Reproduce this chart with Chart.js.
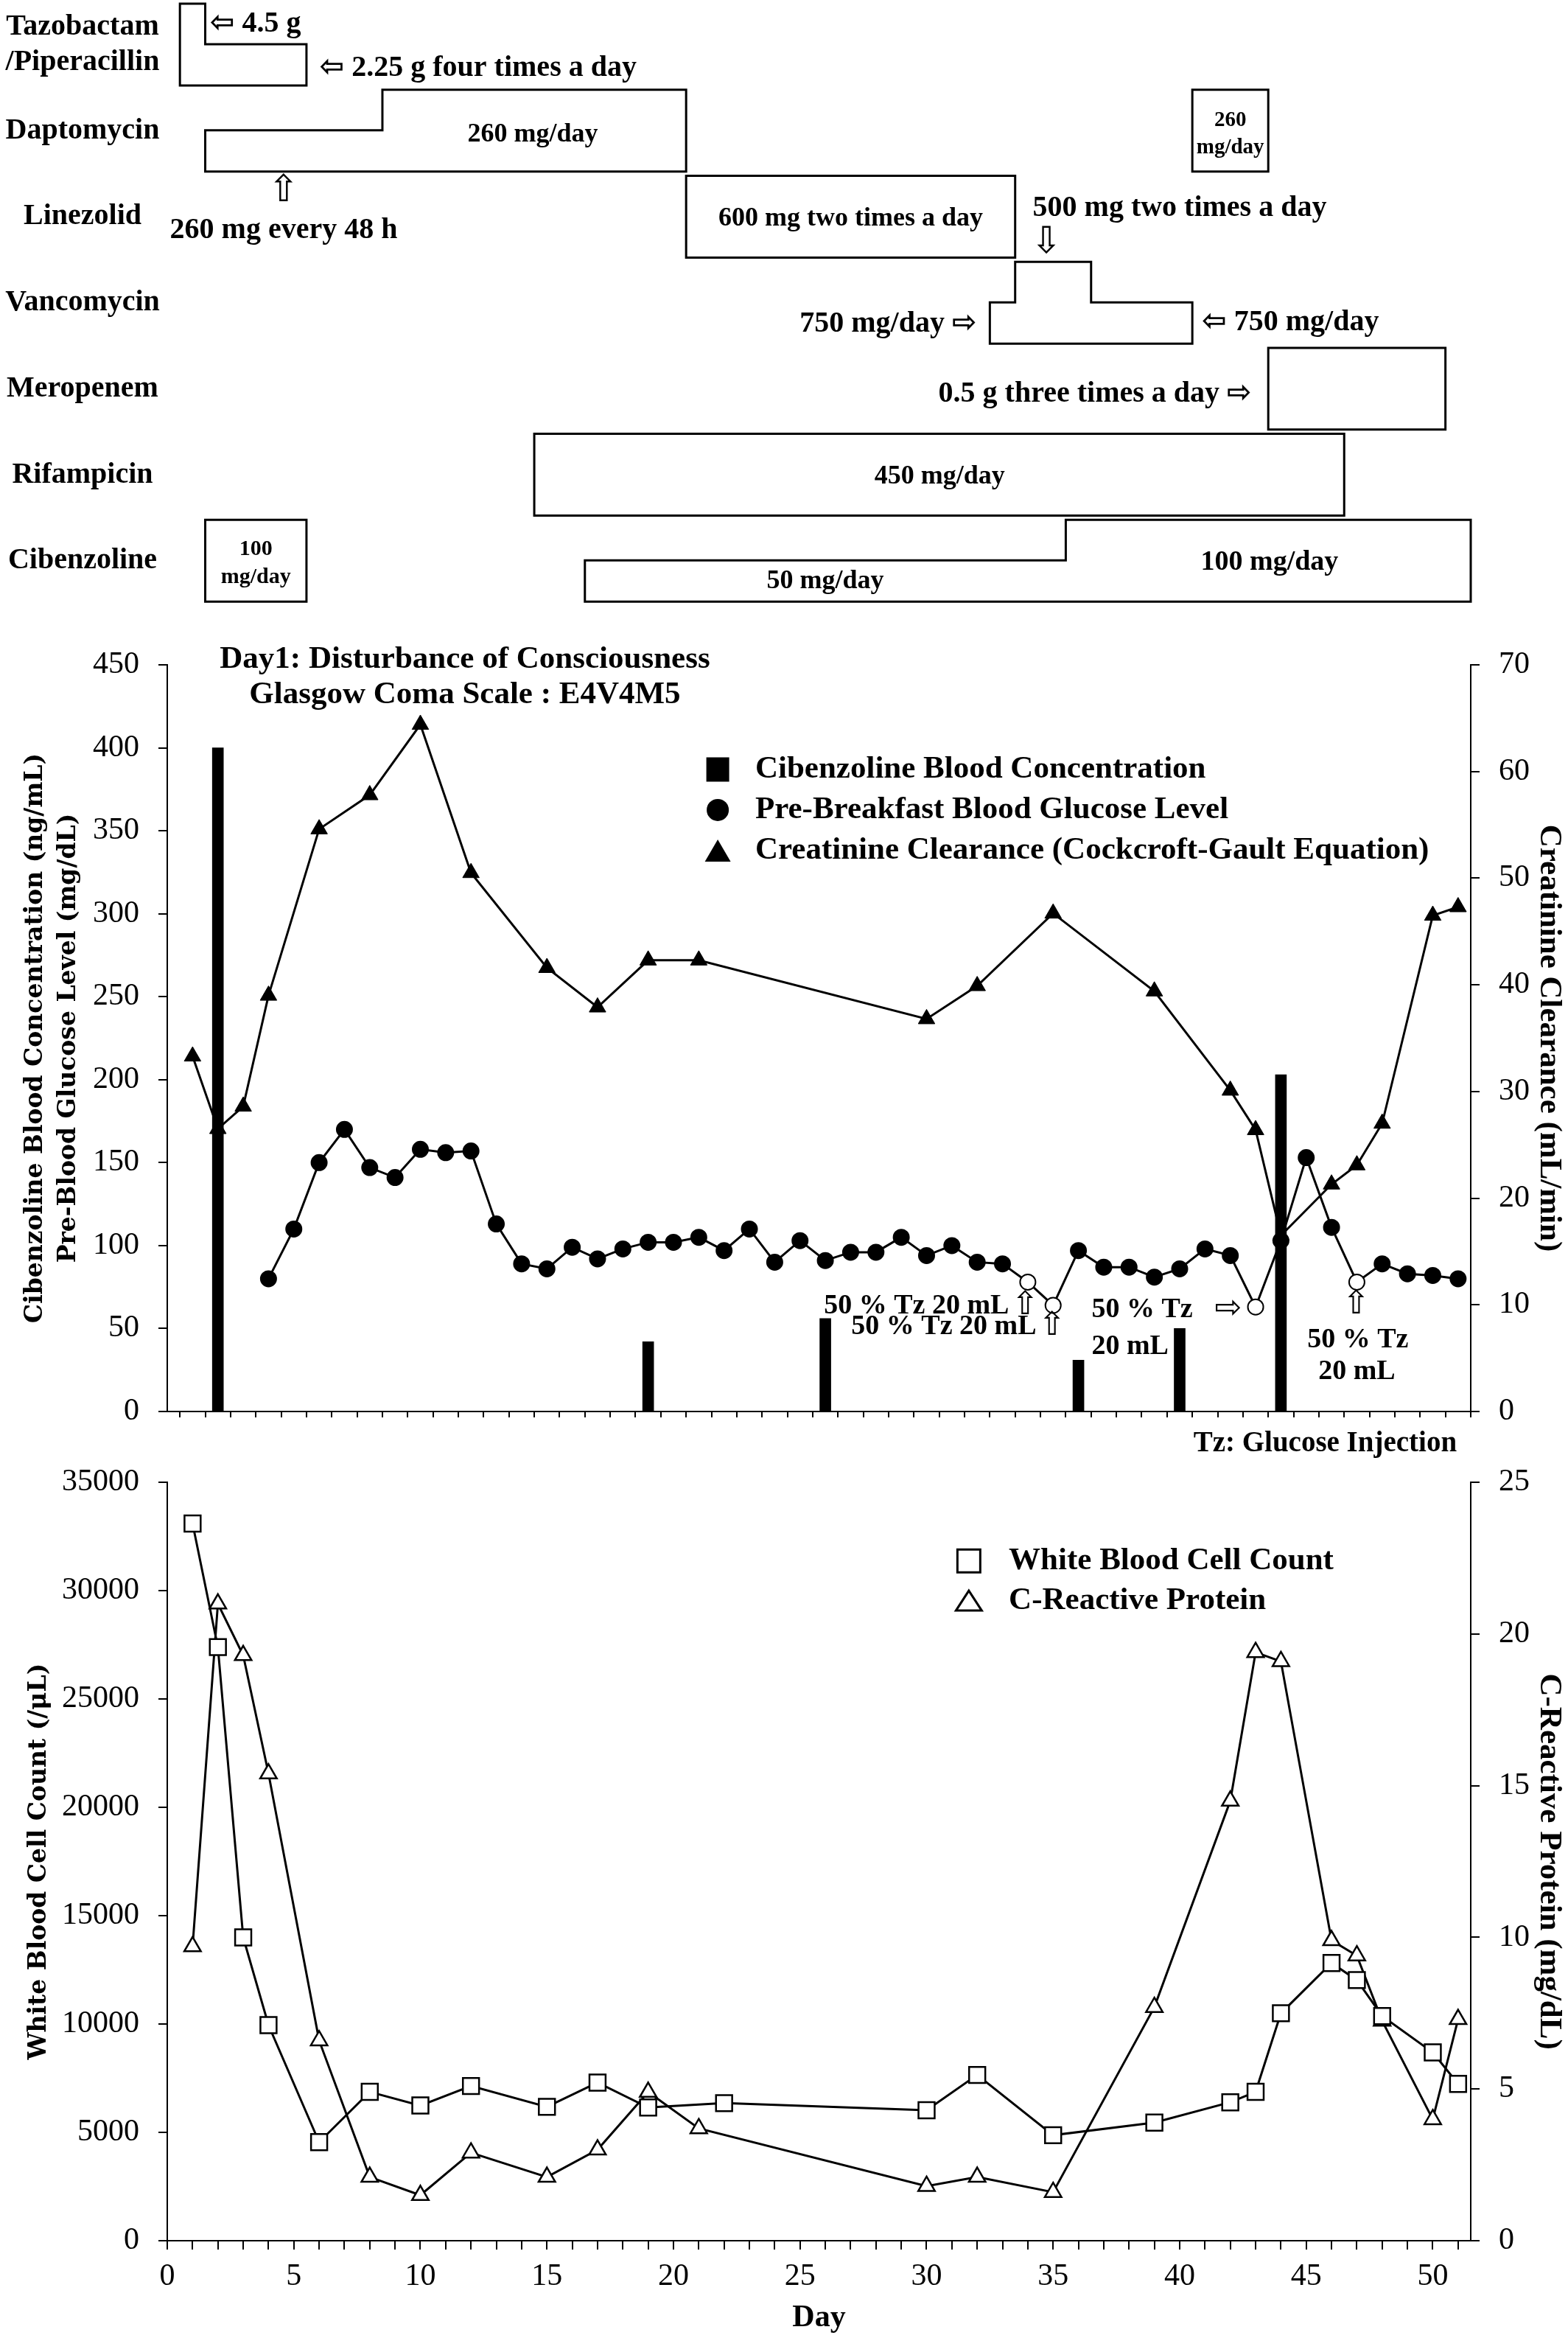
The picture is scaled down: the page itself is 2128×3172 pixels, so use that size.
<!DOCTYPE html>
<html><head><meta charset="utf-8">
<script src="https://cdn.jsdelivr.net/npm/chart.js"></script>
<style>
html,body{margin:0;padding:0;background:#fff;}
body{width:2128px;height:3172px;position:relative;overflow:hidden;}
.box{position:absolute;left:0;width:2128px;}
</style></head><body>
<div class="box" style="top:0;height:830px"><canvas id="c1"></canvas></div>
<div class="box" style="top:830px;height:1170px"><canvas id="c2"></canvas></div>
<div class="box" style="top:1960px;height:1212px"><canvas id="c3"></canvas></div>
<script>
// ---------------- DATA ----------------
const drugLabels = [['Tazobactam','/Piperacillin'],['Daptomycin'],['Linezolid'],['Vancomycin'],['Meropenem'],['Rifampicin'],['Cibenzoline']];
// regimen segments: drug row, start day, end day, dose level (1 = full box, 0.5 = lower step)
const segDrug  = [0,   0,   1,   1,    1,    2,    3,    3,    3,    4,    5,    6,   6,    6];
const segStart = [0.5, 1.5, 1.5, 8.5,  40.5, 20.5, 32.5, 33.5, 36.5, 43.5, 14.5, 1.5, 16.5, 35.5];
const segEnd   = [1.5, 5.5, 8.5, 20.5, 43.5, 33.5, 33.5, 36.5, 40.5, 50.5, 46.5, 5.5, 35.5, 51.5];
const segLevel = [1,   0.5, 0.5, 1,    1,    1,    0.5,  1,    0.5,  1,    1,    1,   0.5,  1];

const cibDays = [2, 19, 26, 36, 40, 44];
const cibConc = [400, 42, 56, 31, 50, 203];

const gluDays  = [4,5,6,7,8,9,10,11,12,13,14,15,16,17,18,19,20,21,22,23,24,25,26,27,28,29,30,31,32,33,34,35,36,37,38,39,40,41,42,43,44,45,46,47,48,49,50,51];
const gluLevel = [80,110,150,170,147,141,158,156,157,113,89,86,99,92,98,102,102,105,97,110,90,103,91,96,96,105,94,100,90,89,78,64,97,87,87,81,86,98,94,63,103,153,111,78,89,83,82,80];
const tzDays   = [34, 35, 43, 47];

const ccrDays = [1,2,3,4,6,8,10,12,15,17,19,21,30,32,35,39,42,43,44,46,47,48,50,51];
const ccrVal  = [33.3,26.5,28.6,39.0,54.6,57.8,64.4,50.5,41.6,37.9,42.3,42.3,36.8,39.9,46.7,39.4,30.1,26.4,16.5,21.3,23.1,27.0,46.5,47.3];

const wbcDays = [1,2,3,4,6,8,10,12,15,17,19,22,30,32,35,39,42,43,44,46,47,48,50,51];
const wbcVal  = [33100,27400,14000,9950,4550,6870,6240,7140,6180,7300,6150,6350,6020,7650,4870,5450,6390,6870,10500,12820,12030,10370,8690,7240];

const crpDays = [1,2,3,4,6,8,10,12,15,17,19,21,30,32,35,39,42,43,44,46,47,48,50,51];
const crpVal  = [9.7,21.0,19.3,15.4,6.6,2.1,1.5,2.9,2.1,3.0,4.9,3.7,1.8,2.1,1.6,7.7,14.5,19.4,19.1,9.9,9.4,7.25,4.0,7.3];

const dayTickLabels = [0,5,10,15,20,25,30,35,40,45,50];

// ---------------- STYLE / LAYOUT ----------------
const SERIF = "'Liberation Serif', 'DejaVu Sans', serif";
const ARROWF = "'DejaVu Sans', sans-serif";
const WIDE = "'DejaVu Serif', serif";
const ROW_TOP = 0.043, ROW_HALF = 0.514, ROW_BOTTOM = 0.994;
const X_MIN = 0, X_MAX = 51.5;

const drugNotes = [
 {t:'\u21E6 4.5 g', d:1.69, r:0.283, a:'left', s:40},
 {t:'\u21E6 2.25 g four times a day', d:6.02, r:0.797, a:'left', s:40},
 {t:'260 mg/day', d:14.44, r:1.568, a:'center', s:36},
 {t:'260', d:42, r:1.397, a:'center', s:29},
 {t:'mg/day', d:42, r:1.714, a:'center', s:29},
 {t:'\u21E7', d:4.6, r:2.228, a:'center', s:50, arrow:true},
 {t:'260 mg every 48 h', d:4.6, r:2.682, a:'center', s:40},
 {t:'600 mg two times a day', d:27, r:2.545, a:'center', s:36},
 {t:'500 mg two times a day', d:40, r:2.425, a:'center', s:40},
 {t:'\u21E9', d:34.74, r:2.828, a:'center', s:50, arrow:true},
 {t:'750 mg/day \u21E8', d:31.98, r:3.770, a:'right', s:40},
 {t:'\u21E6 750 mg/day', d:40.88, r:3.753, a:'left', s:40},
 {t:'0.5 g three times a day \u21E8', d:42.84, r:4.584, a:'right', s:40},
 {t:'450 mg/day', d:30.52, r:5.544, a:'center', s:36},
 {t:'100', d:3.5, r:6.383, a:'center', s:30},
 {t:'mg/day', d:3.5, r:6.709, a:'center', s:30},
 {t:'50 mg/day', d:26, r:6.760, a:'center', s:36},
 {t:'100 mg/day', d:43.55, r:6.538, a:'center', s:38}
];

const midNotes = [
 {t:'Day1: Disturbance of Consciousness', d:11.76, v:453, a:'center', s:43},
 {t:'Glasgow Coma Scale : E4V4M5', d:11.76, v:431.8, a:'center', s:43},
 {t:'50 % Tz 20 mL', d:33.26, v:63.5, a:'right', s:38},
 {t:'\u21E7', d:33.9, v:63.5, a:'center', s:44, arrow:true},
 {t:'50 % Tz 20 mL', d:34.34, v:51.2, a:'right', s:38},
 {t:'\u21E7', d:34.96, v:51.2, a:'center', s:44, arrow:true},
 {t:'50 % Tz', d:36.52, v:61.3, a:'left', s:38},
 {t:'\u21E8', d:41.91, v:61.3, a:'center', s:44, arrow:true},
 {t:'20 mL', d:36.52, v:39.1, a:'left', s:38},
 {t:'\u21E7', d:46.98, v:64, a:'center', s:44, arrow:true},
 {t:'50 % Tz', d:47.04, v:43.1, a:'center', s:38},
 {t:'20 mL', d:47.0, v:24, a:'center', s:38},
 {t:'Tz: Glucose Injection', d:50.95, v:-19.5, a:'right', s:39}
];
const midLegend = {d:21.75, td:23.23, rows:[386.9, 362.5, 338.1]};
const botLegend = {d:31.67, td:33.25, rows:[31374, 29544]};

// ---------------- HELPERS ----------------
function pts(xs, ys){ return xs.map((x,i)=>({x:x, y:ys[i]})); }

function drawNotes(chart, notes, yId, yKey){
  const {ctx} = chart; const xs = chart.scales.x, ys = chart.scales[yId];
  ctx.save(); ctx.fillStyle = '#000'; ctx.textBaseline = 'middle';
  notes.forEach(n => {
    ctx.font = n.arrow ? `${n.s}px ${ARROWF}` : `bold ${n.s}px ${SERIF}`;
    ctx.textAlign = n.a;
    ctx.fillText(n.t, xs.getPixelForValue(n.d), ys.getPixelForValue(n[yKey]));
  });
  ctx.restore();
}

function marker(ctx, style, cx, cy, w, h, filled){
  ctx.beginPath();
  if (style === 'rect') ctx.rect(cx - w/2, cy - h/2, w, h);
  else if (style === 'circle') ctx.arc(cx, cy, w/2, 0, Math.PI*2);
  else { ctx.moveTo(cx, cy - h/2); ctx.lineTo(cx + w/2, cy + h/2); ctx.lineTo(cx - w/2, cy + h/2); ctx.closePath(); }
  if (filled){ ctx.fillStyle = '#000'; ctx.fill(); }
  else { ctx.fillStyle = '#fff'; ctx.fill(); ctx.lineWidth = 3; ctx.strokeStyle = '#000'; ctx.stroke(); }
}

function buildOutlines(){
  const out = []; let i = 0;
  while (i < segDrug.length){
    let j = i;
    while (j + 1 < segDrug.length && segDrug[j+1] === segDrug[i] && segStart[j+1] === segEnd[j]) j++;
    const r = segDrug[i];
    const bottom = r + ROW_BOTTOM;
    const top = lv => r + (lv >= 1 ? ROW_TOP : ROW_HALF);
    const p = [{x: segStart[i], y: bottom}, {x: segStart[i], y: top(segLevel[i])}];
    for (let k = i; k <= j; k++){
      p.push({x: segEnd[k], y: top(segLevel[k])});
      if (k < j) p.push({x: segEnd[k], y: top(segLevel[k+1])});
    }
    p.push({x: segEnd[j], y: bottom});
    p.push({x: segStart[i], y: bottom});
    out.push(p); i = j + 1;
  }
  return out;
}

const tickFont = {family: SERIF, size: 42};
function yAxis(pos, min, max, step, title, titleFont, pad, width){
  return {
    position: pos, min: min, max: max,
    ticks: {stepSize: step, font: tickFont, color: '#000', padding: 26, autoSkip: false, callback: v => String(v)},
    grid: {drawOnChartArea: false, tickLength: 12, color: '#000', lineWidth: 2},
    border: {color: '#000', width: 2},
    title: {display: true, text: title, font: titleFont, color: '#000', padding: {top: pad, bottom: 0}},
    afterFit(s){ s.width = width; }
  };
}

// ---------------- TOP: drug regimen ----------------
new Chart(document.getElementById('c1'), {
  type: 'scatter',
  data: { datasets: buildOutlines().map(p => ({
    data: p, showLine: true, borderColor: '#000', borderWidth: 3, pointRadius: 0,
    borderJoinStyle: 'miter', borderCapStyle: 'square', fill: false, tension: 0, clip: false
  })) },
  options: {
    responsive: true, maintainAspectRatio: false, animation: false,
    layout: {padding: {left: 227, right: 132, top: 0, bottom: 13}},
    plugins: {legend: {display: false}, tooltip: {enabled: false}},
    scales: {
      x: {type: 'linear', min: X_MIN, max: X_MAX, display: false},
      y: {type: 'linear', min: 0, max: 7, reverse: true, display: false}
    }
  },
  plugins: [{
    id: 'drugText',
    afterDraw(chart){
      const {ctx} = chart; const xs = chart.scales.x, ys = chart.scales.y;
      ctx.save(); ctx.fillStyle = '#000'; ctx.textBaseline = 'middle'; ctx.textAlign = 'center';
      ctx.font = `bold 40px ${SERIF}`;
      const lx = chart.chartArea.left - 115;
      drugLabels.forEach((lines, r) => {
        const cy = ys.getPixelForValue(r + 0.52);
        const lh = 48;
        lines.forEach((ln, k) => ctx.fillText(ln, lx, cy + (k - (lines.length - 1)/2) * lh));
      });
      drugNotes.forEach(n => {
        ctx.font = n.arrow ? `${n.s}px ${ARROWF}` : `bold ${n.s}px ${SERIF}`;
        ctx.textAlign = n.a;
        ctx.fillText(n.t, xs.getPixelForValue(n.d), ys.getPixelForValue(n.r));
      });
      ctx.restore();
    }
  }]
});

// ---------------- MIDDLE ----------------
new Chart(document.getElementById('c2'), {
  type: 'bar',
  data: { datasets: [
    {type: 'line', label: 'Creatinine Clearance (Cockcroft-Gault Equation)', data: pts(ccrDays, ccrVal), yAxisID: 'y2',
     borderColor: '#000', borderWidth: 3, tension: 0, pointStyle: 'triangle', pointRadius: 13,
     pointBackgroundColor: '#000', pointBorderColor: '#000', pointBorderWidth: 1, clip: false},
    {type: 'line', label: 'Pre-Breakfast Blood Glucose Level', data: pts(gluDays, gluLevel), yAxisID: 'y',
     borderColor: '#000', borderWidth: 3, tension: 0, pointStyle: 'circle', pointRadius: 10.5,
     pointBackgroundColor: gluDays.map(d => tzDays.includes(d) ? '#fff' : '#000'),
     pointBorderColor: '#000', pointBorderWidth: 2, clip: false},
    {type: 'bar', label: 'Cibenzoline Blood Concentration', data: pts(cibDays, cibConc), yAxisID: 'y',
     backgroundColor: '#000', barThickness: 15, grouped: false}
  ]},
  options: {
    responsive: true, maintainAspectRatio: false, animation: false,
    layout: {padding: {top: 72, left: 0, right: 0, bottom: 0}},
    plugins: {legend: {display: false}, tooltip: {enabled: false}},
    scales: {
      x: {type: 'linear', min: X_MIN, max: X_MAX, offset: false,
          ticks: {stepSize: 1, includeBounds: false, autoSkip: false, maxRotation: 0, callback: () => ''},
          grid: {drawOnChartArea: false, tickLength: 8, color: '#000', lineWidth: 2},
          border: {color: '#000', width: 2},
          afterFit(s){ s.height = 85; }},
      y: yAxis('left', 0, 450, 50, ['Cibenzoline Blood Concentration (ng/mL)', 'Pre-Blood Glucose Level (mg/dL)'],
               {family: WIDE, size: 33, weight: 'bold', lineHeight: 45/33}, 26, 227),
      y2: yAxis('right', 0, 70, 10, 'Creatinine Clearance (mL/min)',
               {family: SERIF, size: 43, weight: 'bold'}, 0, 132)
    }
  },
  plugins: [{
    id: 'midText',
    afterDraw(chart){
      drawNotes(chart, midNotes, 'y', 'v');
      const {ctx} = chart; const xs = chart.scales.x, ys = chart.scales.y;
      const ds = chart.data.datasets;
      const items = [[ds[2].label, 'rect', 31, 33], [ds[1].label, 'circle', 30, 30], [ds[0].label, 'triangle', 35, 30]];
      ctx.save();
      items.forEach((it, k) => {
        const cy = ys.getPixelForValue(midLegend.rows[k]);
        marker(ctx, it[1], xs.getPixelForValue(midLegend.d), cy, it[2], it[3], true);
        ctx.fillStyle = '#000'; ctx.font = `bold 43px ${SERIF}`; ctx.textAlign = 'left'; ctx.textBaseline = 'middle';
        ctx.fillText(it[0], xs.getPixelForValue(midLegend.td), cy);
      });
      ctx.restore();
    }
  }]
});

// ---------------- BOTTOM ----------------
new Chart(document.getElementById('c3'), {
  type: 'line',
  data: { datasets: [
    {label: 'White Blood Cell Count', data: pts(wbcDays, wbcVal), yAxisID: 'y',
     borderColor: '#000', borderWidth: 3, tension: 0, pointStyle: 'rect', pointRadius: 15.5,
     pointBackgroundColor: '#fff', pointBorderColor: '#000', pointBorderWidth: 2.5, clip: false},
    {label: 'C-Reactive Protein', data: pts(crpDays, crpVal), yAxisID: 'y2',
     borderColor: '#000', borderWidth: 3, tension: 0, pointStyle: 'triangle', pointRadius: 13,
     pointBackgroundColor: '#fff', pointBorderColor: '#000', pointBorderWidth: 2.5, clip: false}
  ]},
  options: {
    responsive: true, maintainAspectRatio: false, animation: false,
    layout: {padding: {top: 28, left: 0, right: 0, bottom: 0}},
    plugins: {legend: {display: false}, tooltip: {enabled: false}},
    scales: {
      x: {type: 'linear', min: X_MIN, max: X_MAX, offset: false,
          ticks: {stepSize: 1, includeBounds: false, autoSkip: false, maxRotation: 0, padding: 12,
                  font: tickFont, color: '#000',
                  callback: v => dayTickLabels.includes(v) ? String(v) : ''},
          grid: {drawOnChartArea: false, tickLength: 12, color: '#000', lineWidth: 2},
          border: {color: '#000', width: 2},
          title: {display: true, text: 'Day', color: '#000', font: {family: SERIF, size: 42, weight: 'bold'}, padding: {top: 0, bottom: 2}},
          afterFit(s){ s.height = 132; }},
      y: yAxis('left', 0, 35000, 5000, 'White Blood Cell Count (/\u03BCL)',
               {family: WIDE, size: 33, weight: 'bold', lineHeight: 45/33}, 31, 227),
      y2: yAxis('right', 0, 25, 5, 'C-Reactive Protein (mg/dL)',
               {family: SERIF, size: 43, weight: 'bold'}, 0, 132)
    }
  },
  plugins: [{
    id: 'botLegend',
    afterDraw(chart){
      const {ctx} = chart; const xs = chart.scales.x, ys = chart.scales.y;
      const ds = chart.data.datasets;
      const items = [[ds[0].label, 'rect', 31, 31], [ds[1].label, 'triangle', 35, 27]];
      ctx.save();
      items.forEach((it, k) => {
        const cy = ys.getPixelForValue(botLegend.rows[k]);
        marker(ctx, it[1], xs.getPixelForValue(botLegend.d), cy, it[2], it[3], false);
        ctx.fillStyle = '#000'; ctx.font = `bold 43px ${SERIF}`; ctx.textAlign = 'left'; ctx.textBaseline = 'middle';
        ctx.fillText(it[0], xs.getPixelForValue(botLegend.td), cy);
      });
      ctx.restore();
    }
  }]
});
</script></body></html>
